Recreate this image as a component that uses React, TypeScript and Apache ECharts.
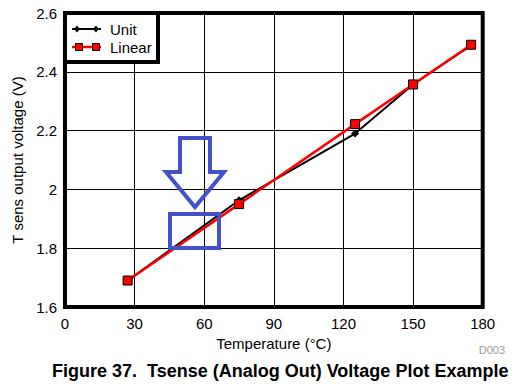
import React, { useEffect, useRef } from "react";
import * as echarts from "echarts";

const temps = [27, 75, 125, 150, 175];
const unitValues = [1.69, 1.963, 2.19, 2.357, 2.49];
const linearValues = [1.69, 1.95, 2.222, 2.357, 2.492];
const xTicks = { min: 0, max: 180, interval: 30 };
const yTicks = { min: 1.6, max: 2.6, interval: 0.2 };
const seriesNames = ["Unit", "Linear"];

const FONT = "'Liberation Sans', Arial, Helvetica, sans-serif";
const BLUE = "#4451c8";

export default function App() {
  const ref = useRef<HTMLDivElement>(null);
  useEffect(() => {
    if (!ref.current) return;
    const chart = echarts.init(ref.current, undefined, { renderer: "svg" });
    const unitData = temps.map((t, i) => [t, unitValues[i]]);
    const linearData = temps.map((t, i) => [t, linearValues[i]]);
    chart.setOption({
      animation: false,
      backgroundColor: "#ffffff",
      textStyle: { fontFamily: FONT },
      title: {
        text: "Figure 37.\u00a0 Tsense (Analog Out) Voltage Plot Example",
        left: 52,
        top: 362,
        padding: 0,
        textStyle: { fontFamily: FONT, fontSize: 18, fontWeight: "bold", color: "#000" },
      },
      grid: {
        left: 65,
        top: 13,
        right: 41.3,
        bottom: 83,
        show: true,
        borderWidth: 4,
        borderColor: "#000",
        backgroundColor: "#fff",
        containLabel: false,
      },
      xAxis: {
        type: "value",
        min: xTicks.min,
        max: xTicks.max,
        interval: xTicks.interval,
        name: "Temperature (°C)",
        nameLocation: "middle",
        nameGap: 20,
        nameTextStyle: { fontFamily: FONT, fontSize: 15, color: "#000" },
        axisLine: { show: false },
        axisTick: { show: false },
        axisLabel: { fontFamily: FONT, fontSize: 15, color: "#000", margin: 9 },
        splitLine: { show: true, lineStyle: { color: "#000", width: 1 } },
      },
      yAxis: {
        type: "value",
        min: yTicks.min,
        max: yTicks.max,
        interval: yTicks.interval,
        name: "T sens output voltage (V)",
        nameLocation: "middle",
        nameGap: 40,
        nameTextStyle: { fontFamily: FONT, fontSize: 15, color: "#000" },
        axisLine: { show: false },
        axisTick: { show: false },
        axisLabel: { fontFamily: FONT, fontSize: 15, color: "#000", margin: 8 },
        splitLine: { show: true, lineStyle: { color: "#000", width: 1 } },
      },
      series: [
        {
          name: seriesNames[0],
          type: "line",
          data: unitData,
          symbol: "diamond",
          symbolSize: 8,
          itemStyle: { color: "#000" },
          lineStyle: { color: "#000", width: 2 },
          z: 3,
        },
        {
          name: seriesNames[1],
          type: "line",
          data: linearData,
          symbol: "rect",
          symbolSize: 9,
          itemStyle: { color: "#ff0000", borderColor: "#000", borderWidth: 1 },
          lineStyle: { color: "#ff0000", width: 2.5 },
          z: 4,
        },
      ],
      graphic: [
        // legend box
        {
          type: "rect",
          z: 100,
          shape: { x: 65, y: 13, width: 93, height: 49 },
          style: { fill: "#fff", stroke: "#000", lineWidth: 4 },
        },
        {
          type: "line",
          z: 101,
          shape: { x1: 72, y1: 29, x2: 101, y2: 29 },
          style: { stroke: "#000", lineWidth: 2 },
        },
        {
          type: "polygon",
          z: 102,
          shape: { points: [[77, 25.5], [80, 29], [77, 32.5], [74, 29]] },
          style: { fill: "#000" },
        },
        {
          type: "polygon",
          z: 102,
          shape: { points: [[96, 25.5], [99, 29], [96, 32.5], [93, 29]] },
          style: { fill: "#000" },
        },
        {
          type: "line",
          z: 101,
          shape: { x1: 72, y1: 47, x2: 101, y2: 47 },
          style: { stroke: "#ff0000", lineWidth: 2.5 },
        },
        {
          type: "rect",
          z: 102,
          shape: { x: 75.5, y: 43.5, width: 7, height: 7 },
          style: { fill: "#ff0000", stroke: "#000", lineWidth: 1 },
        },
        {
          type: "rect",
          z: 102,
          shape: { x: 92.5, y: 43.5, width: 7, height: 7 },
          style: { fill: "#ff0000", stroke: "#000", lineWidth: 1 },
        },
        {
          type: "text",
          z: 102,
          x: 110,
          y: 29,
          style: { text: seriesNames[0], font: `15px ${FONT}`, fill: "#000", verticalAlign: "middle", align: "left" },
        },
        {
          type: "text",
          z: 102,
          x: 110,
          y: 47,
          style: { text: seriesNames[1], font: `15px ${FONT}`, fill: "#000", verticalAlign: "middle", align: "left" },
        },
        // annotation arrow
        {
          type: "polygon",
          z: 110,
          shape: {
            points: [
              [180, 138], [210, 138], [210, 172], [224, 172], [195, 207], [166, 172], [180, 172],
            ],
          },
          style: { fill: "none", stroke: BLUE, lineWidth: 4, lineJoin: "miter" },
        },
        {
          type: "rect",
          z: 110,
          shape: { x: 170, y: 214, width: 49, height: 34 },
          style: { fill: "none", stroke: BLUE, lineWidth: 4 },
        },
        // figure id
        {
          type: "text",
          z: 102,
          x: 505,
          y: 350,
          style: { text: "D003", font: `11px ${FONT}`, fill: "#999", align: "right", verticalAlign: "middle" },
        },
      ],
    });
    return () => chart.dispose();
  }, []);
  return (
    <div
      ref={ref}
      style={{ position: "fixed", left: 0, top: 0, width: 524, height: 390 }}
    />
  );
}
